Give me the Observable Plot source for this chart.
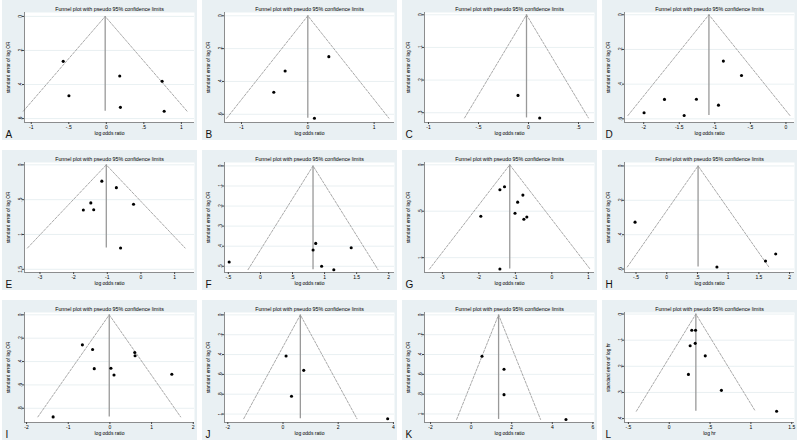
<!DOCTYPE html>
<html><head><meta charset="utf-8">
<script src="https://cdn.jsdelivr.net/npm/d3@7"></script>
<script src="https://cdn.jsdelivr.net/npm/@observablehq/plot@0.6"></script>
<style>
body{margin:0;background:#fff;}
#wrap{position:relative;width:800px;height:441px;overflow:hidden;font-family:"Liberation Sans",Arial,sans-serif;}
.panel{position:absolute;}
</style></head><body><div id="wrap"></div>
<script>
// ---- data ----
const letters = ["A","B","C","D","E","F","G","H","I","J","K","L"];
const plotTitle = "Funnel plot with pseudo 95% confidence limits";
const xLabels = ["log odds ratio","log odds ratio","log odds ratio","log odds ratio","log odds ratio","log odds ratio","log odds ratio","log odds ratio","log odds ratio","log odds ratio","log odds ratio","log hr"];
const yLabels = ["standard error of log OR","standard error of log OR","standard error of log OR","standard error of log OR","standard error of log OR","standard error of log OR","standard error of log OR","standard error of log OR","standard error of log OR","standard error of log OR","standard error of log OR","standard error of log hr"];
const pooled = [-0.015, 0.0, -0.02, -1.083, -1.03, 0.82, -1.153, 0.51, -0.016, 0.628, 1.352, 0.326];

const effA = [-0.574, -0.498, 0.179, 0.188, 0.744, 0.771];
const seA  = [0.264, 0.466, 0.350, 0.534, 0.381, 0.557];
const effB = [0.317, -0.342, -0.513, 0.10];
const seB  = [0.249, 0.336, 0.466, 0.624];
const effC = [-0.105, 0.112];
const seC  = [0.247, 0.316];
const effD = [-1.995, -1.708, -1.431, -1.259, -0.949, -0.880, -0.625];
const seD  = [0.565, 0.488, 0.581, 0.487, 0.521, 0.267, 0.350];
const effE = [-1.163, -0.731, -1.49, -0.221, -1.712, -1.404, -0.606];
const seE  = [0.234, 0.327, 0.546, 0.566, 0.649, 0.644, 1.195];
const effF = [-0.487, 0.821, 0.862, 0.954, 1.144, 1.415];
const seF  = [0.479, 0.419, 0.386, 0.500, 0.517, 0.408];
const effG = [-1.297, -1.423, -0.793, -0.937, -1.009, -1.946, -0.685, -0.766, -1.423];
const seG  = [0.236, 0.268, 0.326, 0.402, 0.522, 0.554, 0.562, 0.587, 1.123];
const effH = [-0.516, 0.817, 1.608, 1.774];
const seH  = [0.327, 0.588, 0.553, 0.512];
const effI = [-0.661, -0.416, 0.596, 0.604, -0.376, 0.024, 0.098, 1.486, -1.363];
const seI  = [0.257, 0.297, 0.322, 0.351, 0.461, 0.458, 0.515, 0.509, 0.874];
const effJ = [0.111, 0.751, 0.308, 3.793];
const seJ  = [0.414, 0.559, 0.820, 1.047];
const effK = [0.534, 1.62, 1.62, 4.674];
const seK  = [0.418, 0.548, 0.805, 1.055];
const effL = [0.276, 0.322, 0.318, 0.256, 0.441, 0.235, 0.639, 1.315];
const seL  = [0.062, 0.062, 0.112, 0.121, 0.160, 0.231, 0.292, 0.372];

const xTicks = [
  [-1,-0.5,0,0.5,1],[-1,0,1],[-1,-0.5,0,0.5],[-2,-1.5,-1,-0.5,0],
  [-3,-2,-1,0,1],[-0.5,0,0.5,1,1.5,2],[-3,-2,-1,0,1],[-0.5,0,0.5,1,1.5,2],
  [-2,-1,0,1,2],[-2,0,2,4],[-2,0,2,4,6],[-0.5,0,0.5,1,1.5]
];
const yTicks = [
  [0,0.2,0.4,0.6],[0,0.2,0.4,0.6],[0,0.1,0.2,0.3],[0,0.2,0.4,0.6],
  [0,0.5,1,1.5],[0,0.1,0.2,0.3,0.4,0.5],[0,0.5,1],[0,0.2,0.4,0.6],
  [0,0.2,0.4,0.6,0.8],[0,0.2,0.4,0.6,0.8,1],[0,0.2,0.4,0.6,0.8,1],[0,0.1,0.2,0.3,0.4]
];
// axis extents (scale domains)
const xDomains = [
  [-1.09,1.175],[-1.256,1.307],[-1.04,0.66],[-2.27,0.12],
  [-3.46,1.59],[-0.56,2.09],[-3.49,1.17],[-0.688,2.08],
  [-2.05,2.03],[-2.12,4.04],[-2.3,6.08],[-0.548,1.534]
];
const yDomains = [
  [-0.023,0.623],[-0.02,0.65],[-0.007,0.33],[-0.013,0.621],
  [-0.034,1.546],[-0.017,0.531],[-0.025,1.16],[-0.02,0.62],
  [-0.02,0.922],[-0.024,1.085],[-0.024,1.086],[-0.006,0.415]
];

const effs = [effA,effB,effC,effD,effE,effF,effG,effH,effI,effJ,effK,effL];
const ses  = [seA,seB,seC,seD,seE,seF,seG,seH,seI,seJ,seK,seL];

// ---- drawing ----
const BG = "#e9f0f3";
const fmt = d => String(+d.toFixed(3)).replace(/^(-?)0\./, "$1.");
const wrap = document.getElementById("wrap");

letters.forEach((letter, i) => {
  const theta = pooled[i];
  const pts = effs[i].map((e, j) => ({eff: e, se: ses[i][j]}));
  const seMax = d3.max(ses[i]);
  const z = 1.96;
  const funnel = [
    {x: theta - z * seMax, y: seMax},
    {x: theta, y: 0},
    {x: theta + z * seMax, y: seMax}
  ];
  const xd = xDomains[i], yd = yDomains[i];
  const svg = Plot.plot({
    width: 195, height: 140,
    marginLeft: 22, marginRight: 3, marginTop: 12, marginBottom: 18,
    style: {background: BG, fontFamily: '"Liberation Sans", Arial, sans-serif', color: "#000", overflow: "visible"},
    x: {domain: xd},
    y: {domain: yd, reverse: true},
    marks: [
      Plot.frame({fill: "white", stroke: null}),
      Plot.gridY(yTicks[i], {stroke: "#e3ecef", strokeOpacity: 1, strokeWidth: 0.8}),
      Plot.line(funnel, {x: "x", y: "y", stroke: "#8c8c8c", strokeWidth: 0.75, strokeDasharray: "2.5,1.5"}),
      Plot.ruleX([{x: theta, y1: 0, y2: seMax}], {x: "x", y1: "y1", y2: "y2", stroke: "#999", strokeWidth: 1.3}),
      Plot.dot(pts, {x: "eff", y: "se", r: 1.55, fill: "#000", stroke: null}),
      Plot.ruleY([yd[1]], {stroke: "#444", strokeWidth: 0.6}),
      Plot.ruleX([xd[0]], {stroke: "#444", strokeWidth: 0.6}),
      Plot.axisX(xTicks[i], {tickSize: 2, tickPadding: 1, fontSize: 5, tickFormat: fmt, label: null, stroke: "#444"}),
      Plot.axisY(yTicks[i], {tickSize: 2, tickPadding: 1, fontSize: 4.8, tickFormat: fmt, tickRotate: -90, label: null, stroke: "#444"}),
      Plot.text([plotTitle], {frameAnchor: "top", dy: -3.6, lineAnchor: "middle", fontSize: 5.3, fill: "#000"}),
      Plot.text([xLabels[i]], {frameAnchor: "bottom", dy: 11, lineAnchor: "middle", fontSize: 5, fill: "#000"}),
      Plot.text([yLabels[i]], {frameAnchor: "left", dx: -16, rotate: -90, textAnchor: "middle", lineAnchor: "middle", fontSize: 4.8, fill: "#000"}),
      Plot.text([letter], {frameAnchor: "bottom-left", dx: -19, dy: 12, textAnchor: "start", lineAnchor: "middle", fontSize: 10, fill: "#111"})
    ]
  });
  const div = document.createElement("div");
  div.className = "panel";
  div.style.left = (200 * (i % 4) + 2) + "px";
  div.style.top = (150 * Math.floor(i / 4)) + "px";
  div.appendChild(svg);
  wrap.appendChild(div);
});
</script>
</body></html>
